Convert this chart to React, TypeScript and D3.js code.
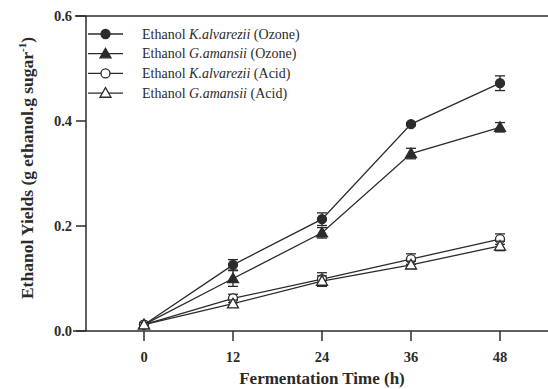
import { useEffect, useRef } from "react";
import * as d3 from "d3";

const hours = [0, 12, 24, 36, 48];
const yTicks = [0.0, 0.2, 0.4, 0.6];

const ozoneK = [0.012, 0.126, 0.213, 0.394, 0.472];
const ozoneKErr = [0.004, 0.01, 0.012, 0.003, 0.014];
const ozoneG = [0.012, 0.1, 0.187, 0.338, 0.388];
const ozoneGErr = [0.004, 0.015, 0.01, 0.01, 0.009];
const acidK = [0.012, 0.062, 0.099, 0.137, 0.175];
const acidKErr = [0.004, 0.008, 0.012, 0.01, 0.01];
const acidG = [0.012, 0.052, 0.095, 0.126, 0.162];
const acidGErr = [0.004, 0.007, 0.01, 0.007, 0.009];

const seriesNames = [
  ["K.alvarezii", "(Ozone)"],
  ["G.amansii", "(Ozone)"],
  ["K.alvarezii", "(Acid)"],
  ["G.amansii", "(Acid)"],
];

const App = () => {
  const ref = useRef<SVGSVGElement>(null);

  useEffect(() => {
    const svg = d3.select(ref.current);
    svg.selectAll("*").remove();

    const width = 548;
    const height = 389;
    const ink = "#2b2b2b";
    const font = "'Liberation Serif', 'Times New Roman', serif";

    svg.attr("width", width).attr("height", height);

    const x = d3.scaleLinear().domain([0, 48]).range([144, 500]);
    const y = d3.scaleLinear().domain([0, 0.6]).range([331, 16]);

    const series = [
      { values: ozoneK, err: ozoneKErr, shape: "circle", fill: ink },
      { values: ozoneG, err: ozoneGErr, shape: "triangle", fill: ink },
      { values: acidK, err: acidKErr, shape: "circle", fill: "white" },
      { values: acidG, err: acidGErr, shape: "triangle", fill: "white" },
    ];

    // axes
    svg.append("line").attr("x1", 86).attr("x2", 86).attr("y1", y(0.6)).attr("y2", y(0))
      .attr("stroke", ink).attr("stroke-width", 1.5);
    svg.append("line").attr("x1", 73).attr("x2", width).attr("y1", y(0)).attr("y2", y(0))
      .attr("stroke", ink).attr("stroke-width", 1.5);
    svg.append("line").attr("x1", 75).attr("x2", width).attr("y1", y(0.6)).attr("y2", y(0.6))
      .attr("stroke", ink).attr("stroke-width", 1.5);

    yTicks.forEach((t) => {
      svg.append("line").attr("x1", 76).attr("x2", 86).attr("y1", y(t)).attr("y2", y(t))
        .attr("stroke", ink).attr("stroke-width", 1.5);
      svg.append("text").attr("x", 72).attr("y", y(t) + 5).attr("text-anchor", "end")
        .attr("font-family", font).attr("font-weight", "bold").attr("font-size", 14.5)
        .attr("fill", ink).text(d3.format(".1f")(t));
    });

    hours.forEach((h) => {
      svg.append("line").attr("x1", x(h)).attr("x2", x(h)).attr("y1", y(0)).attr("y2", y(0) + 10)
        .attr("stroke", ink).attr("stroke-width", 1.5);
      svg.append("text").attr("x", x(h)).attr("y", 362).attr("text-anchor", "middle")
        .attr("font-family", font).attr("font-weight", "bold").attr("font-size", 14.5)
        .attr("fill", ink).text(h);
    });

    // titles
    svg.append("text").attr("x", 322).attr("y", 384).attr("text-anchor", "middle")
      .attr("font-family", font).attr("font-weight", "bold").attr("font-size", 17)
      .attr("fill", ink).text("Fermentation Time (h)");

    const yt = svg.append("text").attr("transform", "translate(33,168) rotate(-90)")
      .attr("text-anchor", "middle").attr("font-family", font).attr("font-weight", "bold")
      .attr("font-size", 17.5).attr("fill", ink);
    yt.append("tspan").text("Ethanol Yields (g ethanol.g sugar");
    yt.append("tspan").attr("dy", -7).attr("font-size", 11).text("-1");
    yt.append("tspan").attr("dy", 7).text(")");

    const drawMarker = (g: any, cx: number, cy: number, shape: string, fill: string) => {
      if (shape === "circle") {
        g.append("circle").attr("cx", cx).attr("cy", cy).attr("r", 4.5)
          .attr("fill", fill).attr("stroke", ink).attr("stroke-width", 1.3);
      } else {
        const s = 5.5;
        g.append("path")
          .attr("d", `M${cx},${cy - s}L${cx + s},${cy + s * 0.75}L${cx - s},${cy + s * 0.75}Z`)
          .attr("fill", fill).attr("stroke", ink).attr("stroke-width", 1.3);
      }
    };

    const line = d3.line<number>().x((_, i) => x(hours[i])).y((d) => y(d));

    series.forEach((s) => {
      const g = svg.append("g");
      g.append("path").datum(s.values).attr("d", line).attr("fill", "none")
        .attr("stroke", ink).attr("stroke-width", 1.3);
      s.values.forEach((v, i) => {
        const cx = x(hours[i]);
        const top = y(v + s.err[i]);
        const bot = y(v - s.err[i]);
        g.append("line").attr("x1", cx).attr("x2", cx).attr("y1", top).attr("y2", bot)
          .attr("stroke", ink).attr("stroke-width", 1.3);
        [top, bot].forEach((yy) => {
          g.append("line").attr("x1", cx - 5).attr("x2", cx + 5).attr("y1", yy).attr("y2", yy)
            .attr("stroke", ink).attr("stroke-width", 1.3);
        });
        drawMarker(g, cx, y(v), s.shape, s.fill);
      });
    });

    // legend
    series.forEach((s, i) => {
      const ly = 34 + i * 19.7;
      const g = svg.append("g");
      g.append("line").attr("x1", 88).attr("x2", 123).attr("y1", ly).attr("y2", ly)
        .attr("stroke", ink).attr("stroke-width", 1.3);
      drawMarker(g, 105.5, ly, s.shape, s.fill);
      const t = g.append("text").attr("x", 142).attr("y", ly + 4.5).attr("font-family", font)
        .attr("font-size", 14).attr("fill", ink);
      t.append("tspan").text("Ethanol ");
      t.append("tspan").attr("font-style", "italic").text(seriesNames[i][0]);
      t.append("tspan").text(" " + seriesNames[i][1]);
    });
  }, []);

  return (
    <div style={{ position: "absolute", left: 0, top: 0 }}>
      <svg ref={ref}></svg>
    </div>
  );
};

export default App;
